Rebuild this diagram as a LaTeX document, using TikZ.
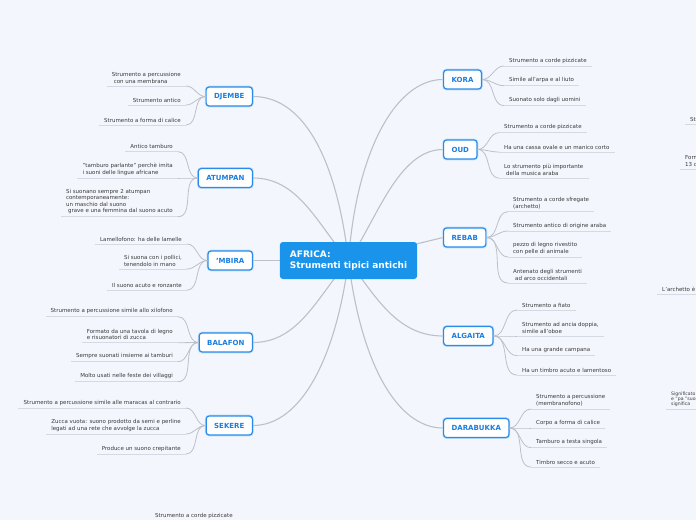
\documentclass[tikz,border=0pt]{standalone}
\usepackage{fontspec}
\setmainfont{DejaVu Sans}
\usepackage{xcolor}
\usepackage{tikz}
\usetikzlibrary{positioning, calc, backgrounds}

\definecolor{bgmap}{HTML}{F3F6FD}
\definecolor{rootblue}{HTML}{1A94EA}
\definecolor{topicblue}{HTML}{2A8CEA}
\definecolor{topicglow}{HTML}{BFDDF8}
\definecolor{topictext}{HTML}{1A7EE0}
\definecolor{linkgray}{HTML}{BCC0C9}
\definecolor{ulinegray}{HTML}{D5D9E1}
\definecolor{leaftext}{HTML}{3A3A3A}

\begin{document}
\begin{tikzpicture}[x=1pt, y=-1pt,
    root/.style={fill=rootblue, rounded corners=3pt, text=white, align=left,
        minimum width=135pt, minimum height=37pt, inner xsep=10pt,
        font=\fontsize{9}{11}\selectfont\bfseries},
    topic/.style={draw=topicblue, line width=1.2pt, fill=white, rounded corners=3pt,
        preaction={draw=topicglow, line width=2.6pt},
        minimum height=19pt, inner xsep=8pt, text=topictext,
        font=\fontsize{7}{8}\selectfont\bfseries},
    leaf/.style={text=leaftext, align=left, inner xsep=5pt, inner ysep=2.5pt,
        font=\fontsize{5.5}{6.6}\selectfont},
    link/.style={draw=linkgray, line width=0.8pt},
    trunk/.style={draw=linkgray, line width=1.1pt},
    uline/.style={draw=ulinegray, line width=0.8pt},
    ]
\useasboundingbox (0,0) rectangle (696,520);
\begin{scope}[on background layer]
  \fill[bgmap] (0,0) rectangle (696,520);
\end{scope}
\clip (0,0) rectangle (696,520);

% centre
\node[root] (africa) at (348.5,260.5) {AFRICA:\\Strumenti tipici antichi};

% instruments, left
\node[topic, anchor=east] (djembe)  at (253,96.5)  {DJEMBE};
\node[topic, anchor=east] (atumpan) at (253,178)   {ATUMPAN};
\node[topic, anchor=east] (mbira)   at (253,260.5) {'MBIRA};
\node[topic, anchor=east] (balafon) at (253,342.5) {BALAFON};
\node[topic, anchor=east] (sekere)  at (253,425.5) {SEKERE};
% instruments, right
\node[topic, anchor=west] (kora)      at (443,79.5)  {KORA};
\node[topic, anchor=west] (oud)       at (443,149.5) {OUD};
\node[topic, anchor=west] (rebab)     at (443,237.5) {REBAB};
\node[topic, anchor=west] (algaita)   at (443,336)   {ALGAITA};
\node[topic, anchor=west] (darabukka) at (443,428)   {DARABUKKA};

% trunks, behind the centre
\begin{scope}[on background layer]
  \draw[trunk] (africa.center) .. controls +(-13,-110) and +(47,0) .. (djembe.east);
  \draw[trunk] (africa.center) .. controls +(-32,-38) and +(45,0) .. (atumpan.east);
  \draw[trunk] (africa.center) -- (mbira.east);
  \draw[trunk] (africa.center) .. controls +(-32,38) and +(45,0) .. (balafon.east);
  \draw[trunk] (africa.center) .. controls +(-13,100) and +(47,0) .. (sekere.east);
  \draw[trunk] (africa.center) .. controls +(8,-110) and +(-47,0) .. (kora.west);
  \draw[trunk] (africa.center) .. controls +(28,-40) and +(-45,0) .. (oud.west);
  \draw[trunk] (africa.center) -- (rebab.west);
  \draw[trunk] (africa.center) .. controls +(28,38) and +(-45,0) .. (algaita.west);
  \draw[trunk] (africa.center) .. controls +(12,100) and +(-47,0) .. (darabukka.west);
\end{scope}

% DJEMBE
\foreach \i/\ly/\txt in {1/86/{Strumento a percussione\\\hspace*{2pt}con una membrana},
    2/105/{Strumento antico}, 3/125/{Strumento a forma di calice}}{
  \node[leaf, anchor=south east] (djembe-\i) at (186,\ly) {\txt};
  \draw[uline] (djembe-\i.south west) -- (djembe-\i.south east);
  \draw[link] (djembe-\i.south east) to[out=0, in=180] (djembe.west);
}
% ATUMPAN
\foreach \i/\ly/\txt in {1/151.7/{Antico tamburo},
    2/178/{"tamburo parlante" perchè imita\\i suoni delle lingue africane},
    3/216.7/{Si suonano sempre 2 atumpan\\contemporaneamente:\\un maschio dal suono\\\hspace*{2pt}grave e una femmina dal suono acuto}}{
  \node[leaf, anchor=south east] (atumpan-\i) at (178,\ly) {\txt};
  \draw[uline] (atumpan-\i.south west) -- (atumpan-\i.south east);
  \draw[link] (atumpan-\i.south east) to[out=0, in=180] (atumpan.west);
}
% 'MBIRA
\foreach \i/\ly/\txt in {1/244/{Lamellofono: ha delle lamelle},
    2/269/{Si suona con i pollici,\\tenendolo in mano},
    3/290/{Il suono acuto e ronzante}}{
  \node[leaf, anchor=south east] (mbira-\i) at (187,\ly) {\txt};
  \draw[uline] (mbira-\i.south west) -- (mbira-\i.south east);
  \draw[link] (mbira-\i.south east) to[out=0, in=180] (mbira.west);
}
% BALAFON
\foreach \i/\ly/\txt in {1/316.7/{Strumento a percussione simile allo xilofono},
    2/342.7/{Formato da una tavola di legno\\e risuonatori di zucca},
    3/361.7/{Sempre suonati insieme ai tamburi},
    4/381.7/{Molto usati nelle feste dei villaggi}}{
  \node[leaf, anchor=south east] (balafon-\i) at (178,\ly) {\txt};
  \draw[uline] (balafon-\i.south west) -- (balafon-\i.south east);
  \draw[link] (balafon-\i.south east) to[out=0, in=180] (balafon.west);
}
% SEKERE
\foreach \i/\ly/\txt in {1/408/{Strumento a percussione simile alle maracas al contrario},
    2/434/{Zucca vuota: suono prodotto da semi e perline\\legati ad una rete che avvolge la zucca},
    3/454/{Produce un suono crepitante}}{
  \node[leaf, anchor=south east] (sekere-\i) at (186,\ly) {\txt};
  \draw[uline] (sekere-\i.south west) -- (sekere-\i.south east);
  \draw[link] (sekere-\i.south east) to[out=0, in=180] (sekere.west);
}

% KORA
\foreach \i/\ly/\txt in {1/66/{Strumento a corde pizzicate},
    2/85.7/{Simile all'arpa e al liuto}, 3/105.7/{Suonato solo dagli uomini}}{
  \node[leaf, anchor=south west] (kora-\i) at (504,\ly) {\txt};
  \draw[uline] (kora-\i.south west) -- (kora-\i.south east);
  \draw[link] (kora.east) to[out=0, in=180] (kora-\i.south west);
}
% OUD
\foreach \i/\ly/\txt in {1/132.7/{Strumento a corde pizzicate},
    2/152/{Ha una cassa ovale e un manico corto},
    3/178/{Lo strumento più importante\\\hspace*{2pt}della musica araba}}{
  \node[leaf, anchor=south west] (oud-\i) at (499,\ly) {\txt};
  \draw[uline] (oud-\i.south west) -- (oud-\i.south east);
  \draw[link] (oud.east) to[out=0, in=180] (oud-\i.south west);
}
% REBAB
\foreach \i/\ly/\txt in {1/211.7/{Strumento a corde sfregate\\(archetto)},
    2/231/{Strumento antico di origine araba},
    3/257/{pezzo di legno rivestito\\con pelle di animale},
    4/283/{Antenato degli strumenti\\\hspace*{2pt}ad arco occidentali}}{
  \node[leaf, anchor=south west] (rebab-\i) at (508,\ly) {\txt};
  \draw[uline] (rebab-\i.south west) -- (rebab-\i.south east);
  \draw[link] (rebab.east) to[out=0, in=180] (rebab-\i.south west);
}
% ALGAITA
\foreach \i/\ly/\txt in {1/310/{Strumento a fiato},
    2/336/{Strumento ad ancia doppia,\\simile all'oboe},
    3/355.7/{Ha una grande campana},
    4/375/{Ha un timbro acuto e lamentoso}}{
  \node[leaf, anchor=south west] (algaita-\i) at (517,\ly) {\txt};
  \draw[uline] (algaita-\i.south west) -- (algaita-\i.south east);
  \draw[link] (algaita.east) to[out=0, in=180] (algaita-\i.south west);
}
% DARABUKKA
\foreach \i/\ly/\txt in {1/409/{Strumento a percussione\\(membranofono)},
    2/428/{Corpo a forma di calice},
    3/447.7/{Tamburo a testa singola},
    4/467/{Timbro secco e acuto}}{
  \node[leaf, anchor=south west] (darabukka-\i) at (531,\ly) {\txt};
  \draw[uline] (darabukka-\i.south west) -- (darabukka-\i.south east);
  \draw[link] (darabukka.east) to[out=0, in=180] (darabukka-\i.south west);
}

% cut off at the edges
\node[leaf, anchor=south west] (edge-1) at (685,124) {Strumento};
\node[leaf, anchor=south west] (edge-2) at (680,169) {Formato da\\13 corde};
\node[leaf, anchor=south west] (edge-3) at (657,294) {L'archetto è};
\node[leaf, anchor=south west, font=\fontsize{4.6}{5}\selectfont] (edge-4) at (666,409)
    {Significato\\e "pa "suono\\significa};
\foreach \e in {1,2,3,4}
  \draw[uline] (edge-\e.south west) -- (edge-\e.south east);
\node[leaf, anchor=south west] (edge-5) at (150,521) {Strumento a corde pizzicate};
\end{tikzpicture}
\end{document}
